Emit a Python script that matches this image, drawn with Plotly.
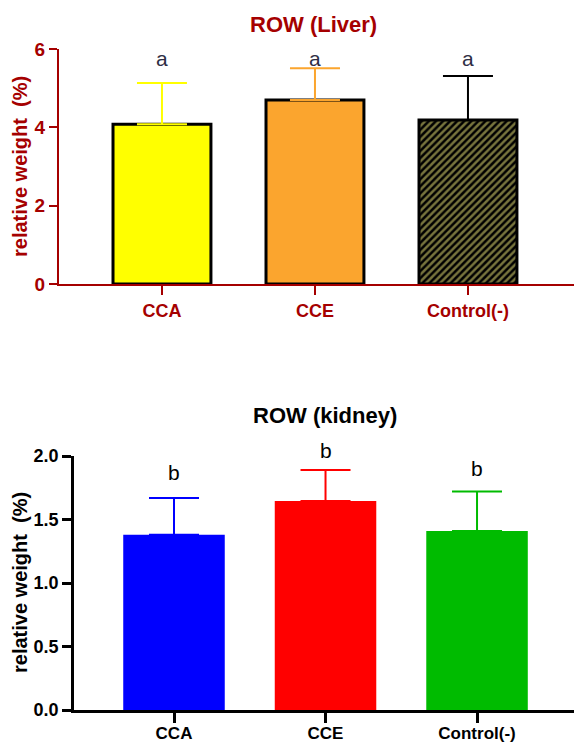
import plotly.graph_objects as go

W, H = 574, 745

categories = ["CCA", "CCE", "Control(-)"]

liver_means = [4.08, 4.70, 4.19]
liver_err = [1.05, 0.81, 1.12]
liver_letters = ["a", "a", "a"]
liver_letter_y = [5.77, 5.77, 5.77]
liver_colors = ["#FFFF00", "#FBA52E", "#000000"]
liver_ymax = 6

kidney_means = [1.38, 1.645, 1.41]
kidney_err = [0.29, 0.245, 0.31]
kidney_letters = ["b", "b", "b"]
kidney_letter_y = [1.87, 2.04, 1.90]
kidney_colors = ["#0000FF", "#FF0000", "#00BB00"]
kidney_ymax = 2

liver_yticks = [0, 2, 4, 6]
kidney_yticks = [0.0, 0.5, 1.0, 1.5, 2.0]
kidney_yticklabels = ["0.0", "0.5", "1.0", "1.5", "2.0"]

DARKRED = "#A50000"
FONT = "Liberation Sans, Arial, sans-serif"

fig = go.Figure()

# Liver chart
for i, cat in enumerate(categories):
    marker = dict(color=liver_colors[i], line=dict(color="black", width=3))
    if cat == "Control(-)":
        marker["pattern"] = dict(shape="/", fgcolor="#EDE77A", bgcolor="#000000",
                                 size=5, solidity=0.5, fillmode="overlay")
    fig.add_trace(go.Bar(
        x=[cat], y=[liver_means[i]], width=0.64, marker=marker,
        error_y=dict(type="data", symmetric=False, array=[liver_err[i]],
                     arrayminus=[0], color=liver_colors[i], thickness=2, width=25),
        xaxis="x", yaxis="y", showlegend=False,
    ))

# Kidney chart
for i, cat in enumerate(categories):
    fig.add_trace(go.Bar(
        x=[cat], y=[kidney_means[i]], width=0.67,
        marker=dict(color=kidney_colors[i], line=dict(width=0)),
        error_y=dict(type="data", symmetric=False, array=[kidney_err[i]],
                     arrayminus=[0], color=kidney_colors[i], thickness=2, width=25),
        xaxis="x2", yaxis="y2", showlegend=False,
    ))

annotations = []
for i, cat in enumerate(categories):
    annotations.append(dict(x=cat, y=liver_letter_y[i] / liver_ymax, xref="x", yref="y domain",
                            text=liver_letters[i], showarrow=False,
                            xanchor="center", yanchor="middle",
                            font=dict(family=FONT, size=21, color="#2E2E45")))
    annotations.append(dict(x=cat, y=kidney_letter_y[i] / kidney_ymax, xref="x2", yref="y2 domain",
                            text=kidney_letters[i], showarrow=False,
                            xanchor="center", yanchor="middle",
                            font=dict(family=FONT, size=21, color="black")))

annotations += [
    dict(x=313 / W, y=1 - 25 / H, xref="paper", yref="paper", text="ROW (Liver)",
         xanchor="center", yanchor="middle", showarrow=False,
         font=dict(family=FONT, size=22, color=DARKRED, weight="bold")),
    dict(x=325 / W, y=1 - 415 / H, xref="paper", yref="paper", text="ROW (kidney)",
         xanchor="center", yanchor="middle", showarrow=False,
         font=dict(family=FONT, size=22, color="black", weight="bold")),
    dict(x=20 / W, y=1 - 167 / H, xref="paper", yref="paper", text="relative weight&nbsp; (%)",
         xanchor="center", yanchor="middle", textangle=-90, showarrow=False,
         font=dict(family=FONT, size=20, color=DARKRED, weight="bold")),
    dict(x=20 / W, y=1 - 583 / H, xref="paper", yref="paper", text="relative weight&nbsp; (%)",
         xanchor="center", yanchor="middle", textangle=-90, showarrow=False,
         font=dict(family=FONT, size=20, color="black", weight="bold")),
]

fig.update_layout(
    width=W, height=H,
    margin=dict(l=0, r=0, t=0, b=0),
    paper_bgcolor="white", plot_bgcolor="white",
    barmode="overlay",
    annotations=annotations,
    xaxis=dict(domain=[59 / W, 1], anchor="y", type="category",
               categoryorder="array", categoryarray=categories,
               range=[-0.673, 2.693], showline=True, linecolor=DARKRED, linewidth=2,
               ticks="outside", ticklen=9, tickwidth=2, tickcolor=DARKRED,
               showgrid=False, zeroline=False, automargin=False,
               tickfont=dict(family=FONT, size=18, color=DARKRED, weight="bold")),
    yaxis=dict(domain=[1 - 284 / H, 1 - 49 / H], anchor="x", range=[0, liver_ymax],
               tickvals=liver_yticks, showline=True, linecolor=DARKRED, linewidth=2,
               ticks="outside", ticklen=8, tickwidth=2, tickcolor=DARKRED,
               showgrid=False, zeroline=False, automargin=False,
               tickfont=dict(family=FONT, size=19, color=DARKRED, weight="bold")),
    xaxis2=dict(domain=[74 / W, 1], anchor="y2", type="category",
                categoryorder="array", categoryarray=categories,
                range=[-0.66, 2.64], showline=True, linecolor="black", linewidth=2.5,
                ticks="outside", ticklen=10, tickwidth=2.5, tickcolor="black",
                ticklabelstandoff=-4,
                showgrid=False, zeroline=False, automargin=False,
                tickfont=dict(family=FONT, size=17, color="black", weight="bold")),
    yaxis2=dict(domain=[1 - 710 / H, 1 - 456 / H], anchor="x2", range=[0, kidney_ymax],
                tickvals=kidney_yticks, ticktext=kidney_yticklabels,
                showline=True, linecolor="black", linewidth=2.5,
                ticks="outside", ticklen=9, tickwidth=2.5, tickcolor="black",
                showgrid=False, zeroline=False, automargin=False,
                tickfont=dict(family=FONT, size=18, color="black", weight="bold")),
)

fig.write_html("out.html")
